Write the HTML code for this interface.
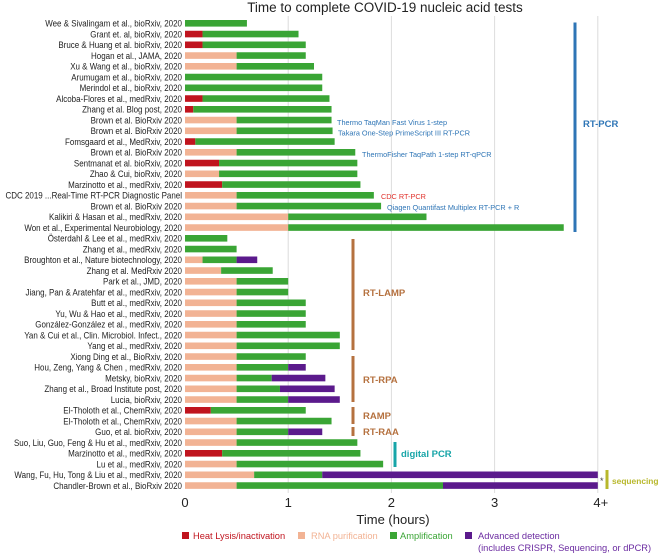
<!DOCTYPE html>
<html><head><meta charset="utf-8"><style>
body{margin:0;background:#fff;}
svg{display:block;font-family:"Liberation Sans",sans-serif;}
</style></head><body>
<svg id="chart" width="660" height="554"></svg>
<script>
const labels=["Wee & Sivalingam et al., bioRxiv, 2020","Grant et. al, bioRxiv, 2020","Bruce & Huang et al. bioRxiv, 2020","Hogan et al., JAMA, 2020","Xu & Wang et al., bioRxiv, 2020","Arumugam et al., bioRxiv, 2020","Merindol et al., bioRxiv, 2020","Alcoba-Flores et al., medRxiv, 2020","Zhang et al. Blog post, 2020","Brown et al. BioRxiv 2020","Brown et al. BioRxiv 2020","Fomsgaard et al., MedRxiv, 2020","Brown et al. BioRxiv 2020","Sentmanat et al. bioRxiv, 2020","Zhao & Cui, bioRxiv, 2020","Marzinotto et al., medRxiv, 2020","CDC 2019 ...Real-Time RT-PCR Diagnostic Panel","Brown et al. BioRxiv 2020","Kalikiri & Hasan et al., medRxiv, 2020","Won et al., Experimental Neurobiology, 2020","Österdahl & Lee et al., medRxiv, 2020","Zhang et al., medRxiv, 2020","Broughton et al., Nature biotechnology, 2020","Zhang et al. MedRxiv 2020","Park et al., JMD, 2020","Jiang, Pan & Aratehfar et al., medRxiv, 2020","Butt et al., medRxiv, 2020","Yu, Wu & Hao et al., medRxiv, 2020","González-González et al., medRxiv, 2020","Yan & Cui et al., Clin. Microbiol. Infect., 2020","Yang et al., medRxiv, 2020","Xiong Ding et al., BioRxiv, 2020","Hou, Zeng, Yang & Chen , medRxiv, 2020","Metsky, bioRxiv, 2020","Zhang et al., Broad Institute post, 2020","Lucia, bioRxiv, 2020","El-Tholoth et al., ChemRxiv, 2020","El-Tholoth et al., ChemRxiv, 2020","Guo, et al. bioRxiv, 2020","Suo, Liu, Guo, Feng & Hu et al., medRxiv, 2020","Marzinotto et al., medRxiv, 2020","Lu et al., medRxiv, 2020","Wang, Fu, Hu, Tong & Liu et al., medRxiv, 2020","Chandler-Brown et al., BioRxiv 2020"];
const heat=[0,0.17,0.17,0,0,0,0,0.17,0.08,0,0,0.1,0,0.33,0,0.36,0,0,0,0,0,0,0,0,0,0,0,0,0,0,0,0,0,0,0,0,0.25,0,0,0,0.36,0,0,0];
const purif=[0,0,0,0.5,0.5,0,0,0,0,0.5,0.5,0,0.5,0,0.33,0,0.5,0.5,1.0,1.0,0,0,0.17,0.35,0.5,0.5,0.5,0.5,0.5,0.5,0.5,0.5,0.5,0.5,0.5,0.5,0,0.5,0.5,0.5,0,0.5,0.67,0.5];
const ampEnd=[0.6,1.1,1.17,1.17,1.25,1.33,1.33,1.4,1.42,1.42,1.43,1.45,1.65,1.67,1.67,1.7,1.83,1.9,2.34,3.67,0.41,0.5,0.5,0.85,1.0,1.0,1.17,1.17,1.17,1.5,1.5,1.17,1.0,0.84,0.92,1.0,1.17,1.42,1.0,1.67,1.7,1.92,1.33,2.5];
const detEnd=[0,0,0,0,0,0,0,0,0,0,0,0,0,0,0,0,0,0,0,0,0,0,0.7,0,0,0,0,0,0,0,0,0,1.17,1.36,1.45,1.5,0,0,1.33,0,0,0,4,4];
const ticks=["0","1","2","3","4+"];
const C={heat:"#c0141e",purif:"#f2b394",amp:"#3aa535",det:"#5b1a8c"};
const svg=document.getElementById('chart');
const NS="http://www.w3.org/2000/svg";
function x(v){return 185+v*103.2;}
function y(i){return 23.3+i*10.75;}
function el(t,a,txt,parent){const e=document.createElementNS(NS,t);for(const k in a)e.setAttribute(k,a[k]);if(txt!==undefined)e.textContent=txt;(parent||svg).appendChild(e);return e;}
ticks.forEach((t,i)=>{if(i>0){const g=el('line',{x1:x(i),x2:x(i),y1:16,y2:493,stroke:'#dcdcdc','stroke-width':1});

}
const tl=el('text',{x:x(i)+(i==4?3:0),y:507,'font-size':13,'text-anchor':'middle',fill:'#222'},t);

});
const bh=6.6;
function seg(i,a,b,c,n){if(b<=a)return;const r=el('rect',{x:x(a),y:y(i)-bh/2,width:x(b)-x(a),height:bh,fill:c});

}
const lg=el('g',{transform:'translate(182,0) scale(0.86,1)'});


labels.forEach((l,i)=>{
const t=el('text',{x:0,y:y(i)+3.3,'font-size':9.3,'text-anchor':'end',fill:'#222'},l,lg);


const s0=heat[i]>0?heat[i]:purif[i];
if(heat[i]>0)seg(i,0,heat[i],C.heat,'bar-heat-lysis');else seg(i,0,purif[i],C.purif,'bar-rna-purification');
seg(i,s0,ampEnd[i],C.amp,'bar-amplification');
seg(i,ampEnd[i],detEnd[i],C.det,'bar-advanced-detection');
});
function T(xx,yy,s,fill,size,name,w){const t=el('text',{x:xx,y:yy,'font-size':size,fill:fill,'font-weight':w||'normal'},s);return t;}
function L(xx,y1,y2,c,w,name){const e=el('line',{x1:xx,x2:xx,y1:y1,y2:y2,stroke:c,'stroke-width':w});}
const tt=el('text',{x:385,y:12,'font-size':13.5,'text-anchor':'middle',fill:'#222'},'Time to complete COVID-19 nucleic acid tests');


T(337,125,'Thermo TaqMan Fast Virus 1-step','#2e75b6',7.3,'kit-annotation');
T(338,135.5,'Takara One-Step PrimeScript III RT-PCR','#2e75b6',7.3,'kit-annotation');
T(362,157,'ThermoFisher TaqPath 1-step RT-qPCR','#2e75b6',7.3,'kit-annotation');
T(381,199,'CDC RT-PCR','#e0302a',7.3,'kit-annotation');
T(387,210,'Qiagen Quantifast Multiplex RT-PCR + R','#2e75b6',7.3,'kit-annotation');
L(575,22.5,232,'#2e75b6',3,'rt-pcr-bracket');T(583,127,'RT-PCR','#2e75b6',9.5,'rt-pcr-label','bold');
L(353,239,350,'#b5713f',3,'rt-lamp-bracket');T(363,296,'RT-LAMP','#b5713f',9.5,'rt-lamp-label','bold');
L(353,356,402,'#b5713f',3,'rt-rpa-bracket');T(363,383,'RT-RPA','#b5713f',9.5,'rt-rpa-label','bold');
L(353,407,424,'#b5713f',3,'ramp-bracket');T(363,419,'RAMP','#b5713f',9.5,'ramp-label','bold');
L(353,427,436,'#b5713f',3,'rt-raa-bracket');T(363,435,'RT-RAA','#b5713f',9.5,'rt-raa-label','bold');
L(395,442,467,'#17a5a8',3,'digital-pcr-bracket');T(401,457,'digital PCR','#17a5a8',9.5,'digital-pcr-label','bold');
L(607,470,489,'#b8b82c',3,'sequencing-bracket');T(612,484,'sequencing','#b8b82c',8.4,'sequencing-label','bold');
T(600,484,'*','#444',9,'asterisk');
const at=el('text',{x:393,y:524,'font-size':13,'text-anchor':'middle',fill:'#222'},'Time (hours)');


const leg=[[182,193,C.heat,'#c0141e','Heat Lysis/inactivation'],[298,311,C.purif,'#f2b394','RNA purification'],[390,400,C.amp,'#3aa535','Amplification'],[465,478,C.det,'#6a2aa0','Advanced detection']];
leg.forEach(l=>{const r=el('rect',{x:l[0],y:532,width:7,height:7,fill:l[2]});


T(l[1],539,l[4],l[3],9.3,'legend-entry');});
T(478,551,'(includes CRISPR, Sequencing, or dPCR)','#6a2aa0',9.3,'legend-entry-note');
</script>
</body></html>
